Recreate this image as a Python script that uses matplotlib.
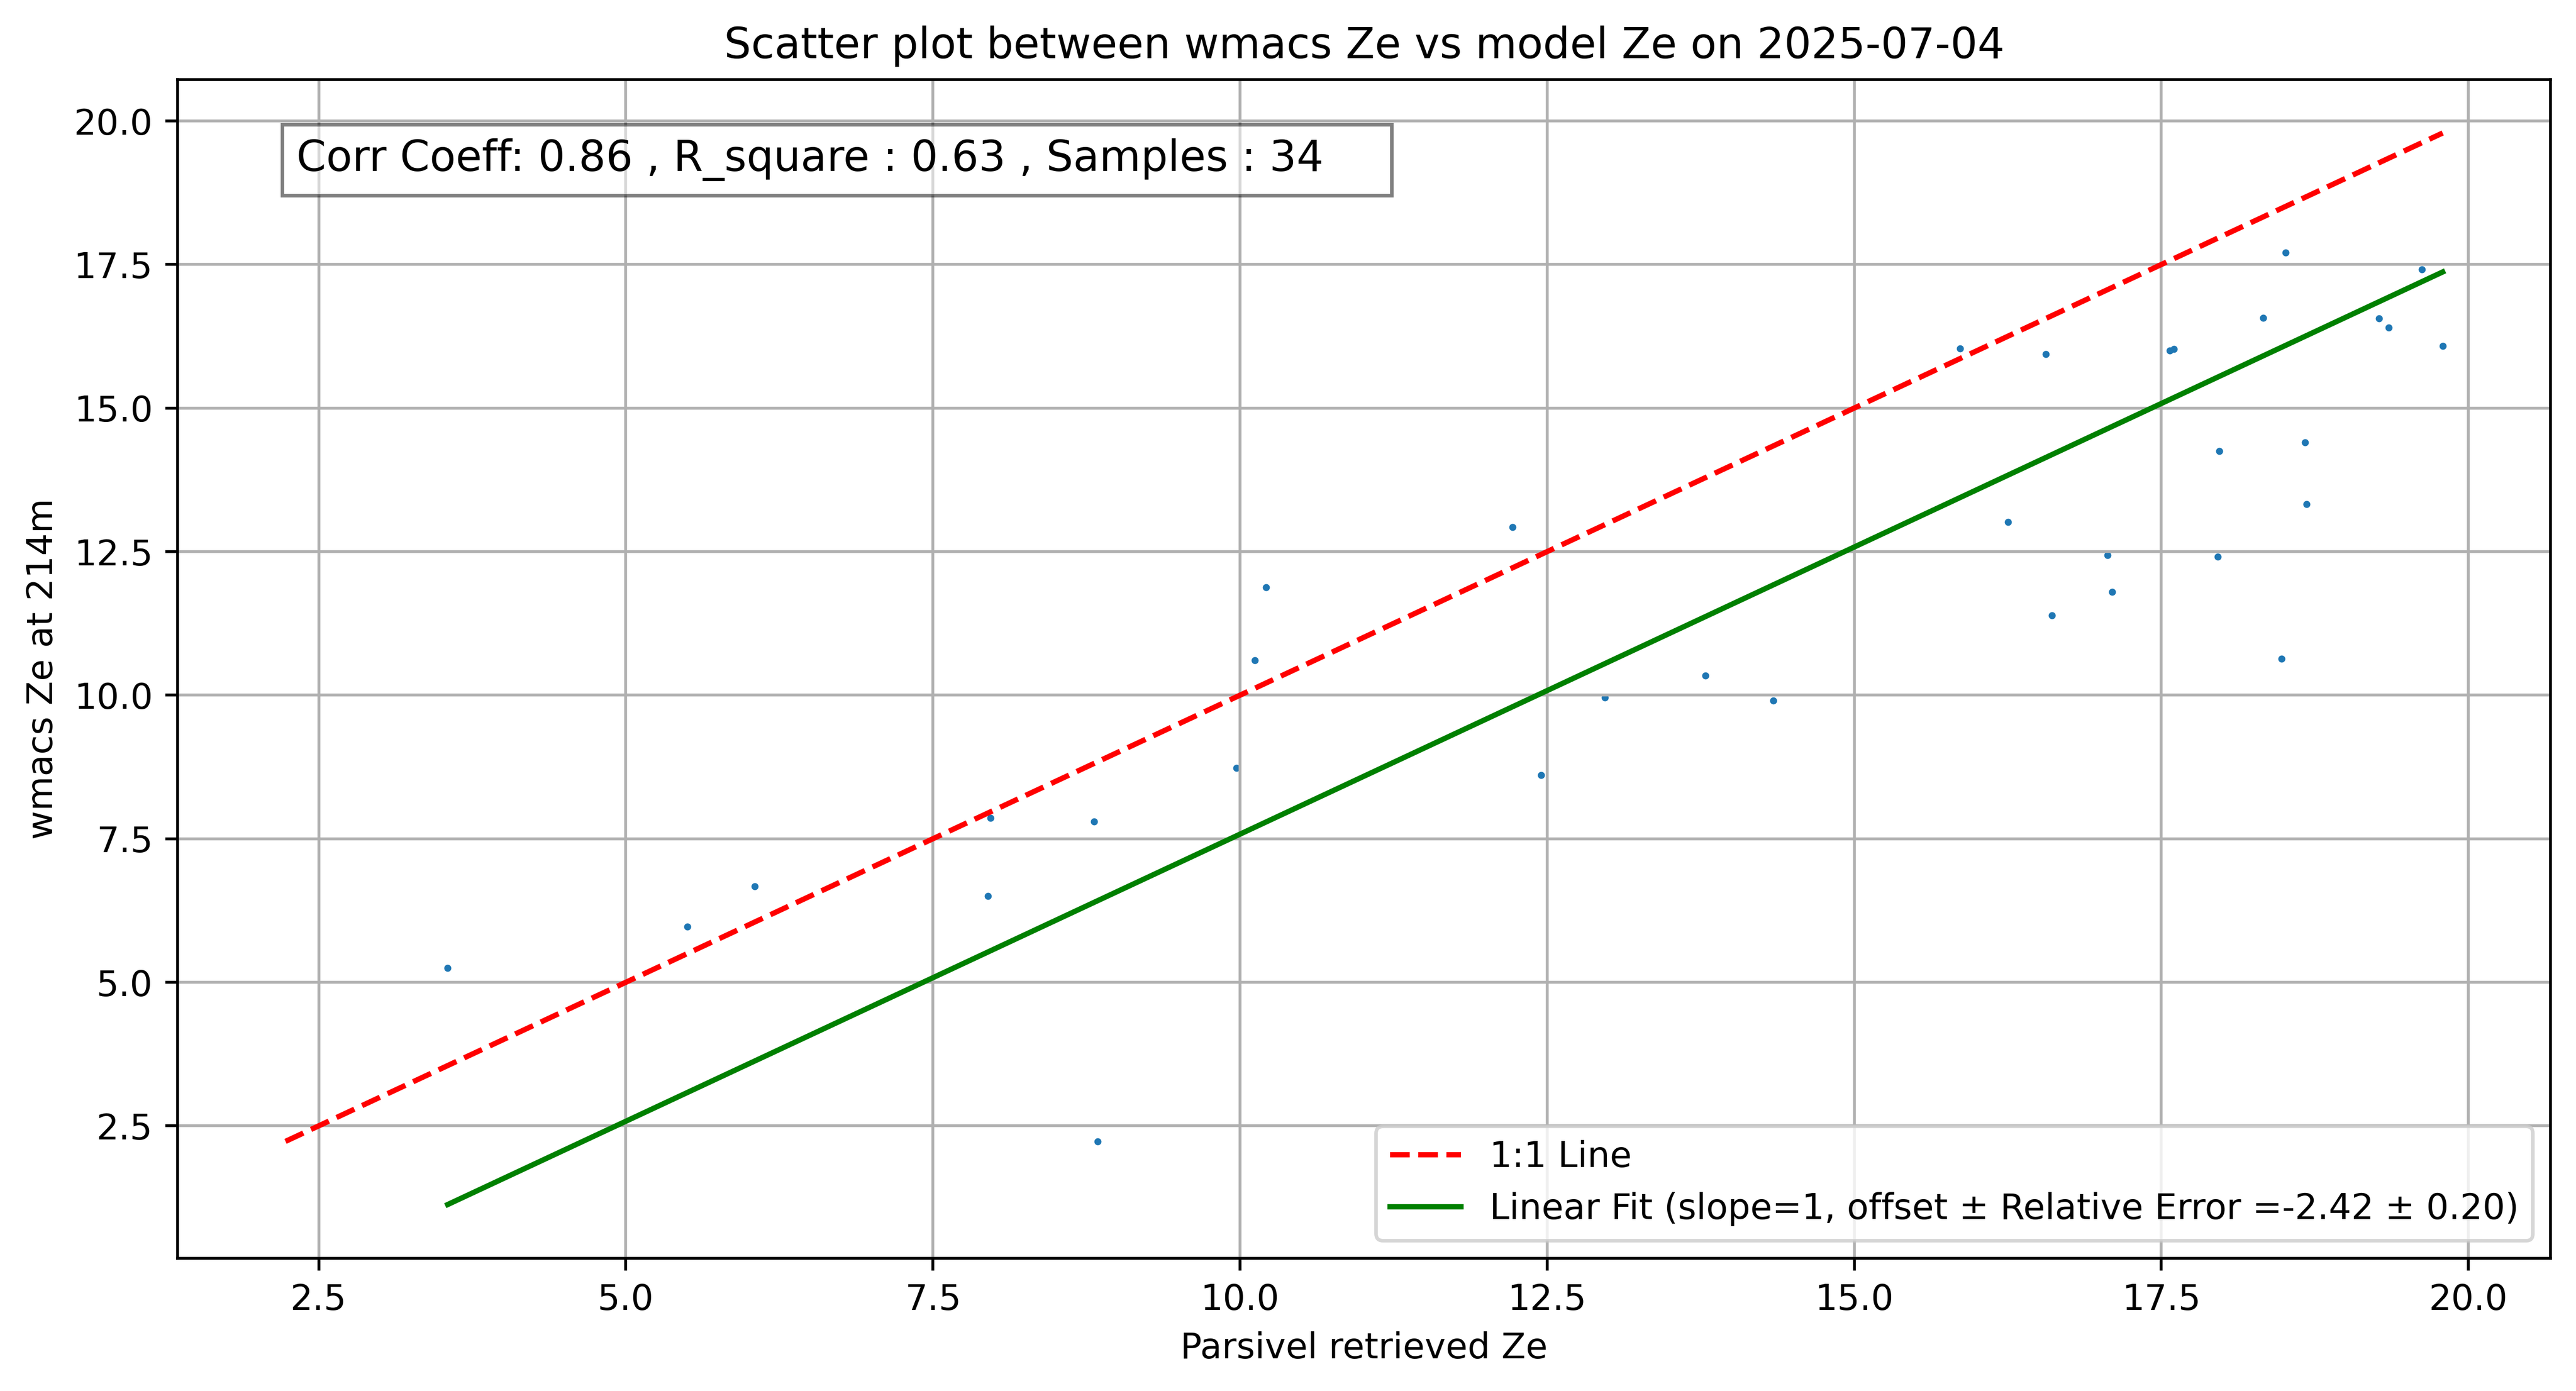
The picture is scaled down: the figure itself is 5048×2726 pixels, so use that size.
import numpy as np
import matplotlib.pyplot as plt

# parsivel retrieved Ze (x) and wmacs Ze at 214m (y)
parsivel_ze = [3.55, 5.50, 6.05, 7.97, 7.95, 8.81, 8.84, 9.97, 10.21, 10.12,
               12.22, 12.45, 12.97, 13.79, 14.34, 15.86, 16.25, 16.56, 16.61,
               17.06, 17.10, 17.57, 17.60, 17.97, 17.96, 18.33, 18.51, 18.48,
               18.67, 18.68, 19.27, 19.35, 19.62, 19.79]
wmacs_ze = [5.25, 5.97, 6.67, 7.86, 6.50, 7.80, 2.23, 8.73, 11.88, 10.61,
            12.93, 8.61, 9.96, 10.34, 9.91, 16.04, 13.02, 15.94, 11.39,
            12.44, 11.80, 16.00, 16.03, 14.25, 12.41, 16.57, 17.71, 10.63,
            14.40, 13.33, 16.56, 16.40, 17.41, 16.08]

corr_coeff = 0.86
r_square = 0.63
offset = -2.42
rel_err = 0.20
date = "2025-07-04"

x = np.array(parsivel_ze)
y = np.array(wmacs_ze)

plt.figure(figsize=(12, 6))
plt.scatter(x, y, s=1)

lo = min(x.min(), y.min())
hi = max(x.max(), y.max())
plt.plot([lo, hi], [lo, hi], 'r--', label='1:1 Line')

xfit = np.array([x.min(), x.max()])
plt.plot(xfit, xfit + offset, 'g-',
         label='Linear Fit (slope=1, offset \u00b1 Relative Error =%.2f \u00b1 %.2f)' % (offset, rel_err))

plt.text(0.05, 0.95,
         'Corr Coeff: %.2f , R_square : %.2f , Samples : %d    ' % (corr_coeff, r_square, len(x)),
         transform=plt.gca().transAxes, fontsize=12, verticalalignment='top',
         bbox=dict(facecolor='white', alpha=0.5))

plt.xlabel('Parsivel retrieved Ze')
plt.ylabel('wmacs Ze at 214m')
plt.title('Scatter plot between wmacs Ze vs model Ze on ' + date)
plt.legend()
plt.grid(True)
plt.savefig('out.png', dpi=500, bbox_inches='tight')
